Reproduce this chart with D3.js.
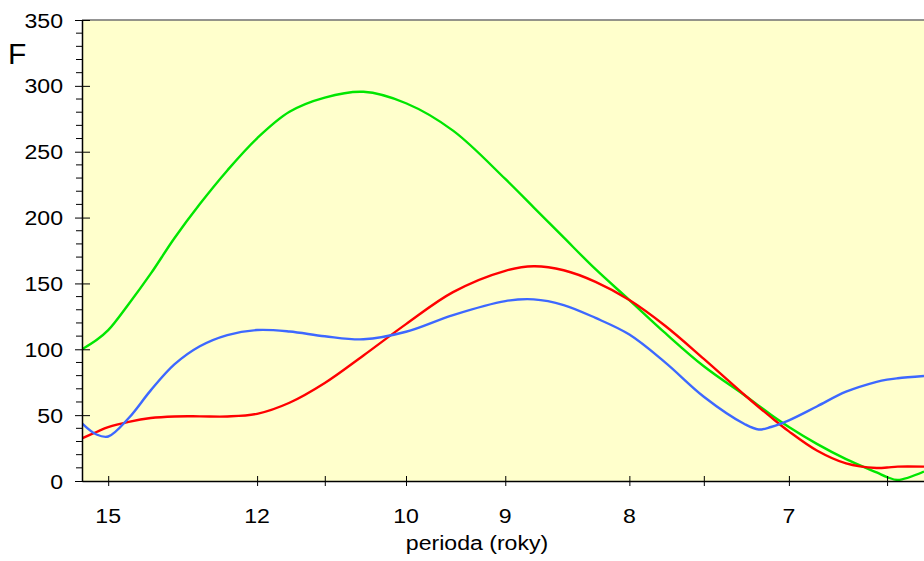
<!DOCTYPE html>
<html>
<head>
<meta charset="utf-8">
<script src="https://cdn.jsdelivr.net/npm/d3@7"></script>
<style>
  body { margin: 0; background: #fff; }
  svg { display: block; font-family: Arial, "Liberation Sans", sans-serif; }
</style>
</head>
<body>
<div id="chart"></div>
<script>
const periods = [15.69, 15.3, 15, 14.5, 14, 13.5, 13, 12.5, 12, 11.5, 11, 10.5, 10, 9.5, 9,
  8.75, 8.5, 8.25, 8, 7.75, 7.5, 7.25, 7.17, 7.1, 7, 6.85, 6.7, 6.55, 6.5, 6.45, 6.33];

const greenF = [100, 107, 114.5, 134.4, 157.4, 184.3, 210.3, 235.8, 260.2, 280.3, 291.1, 295.5, 286.8, 266, 229.3,
  207.8, 184.9, 160.8, 137.4, 112.2, 87.1, 64.9, 57.2, 50.3, 41, 28.2, 16.6, 6.5, 3, 0.8, 7.2];

const redF = [32.4, 37.2, 40.9, 44.9, 47.8, 49, 49.1, 49, 51, 59.4, 74.4, 95.3, 119.1, 143.4, 159.6,
  163, 160, 151.2, 137.4, 117.7, 92.7, 65.1, 56.2, 48.5, 37.7, 23.2, 13.4, 9.9, 10.2, 10.9, 10.9];

const blueF = [43.8, 35.3, 33.8, 47.8, 68.8, 88.5, 102.3, 110.8, 114.6, 113.5, 109.9, 107.6, 113.3, 126, 136.6,
  137.9, 133.6, 123.8, 111.2, 89.9, 64, 43.1, 39.1, 41, 46.1, 56.6, 67.8, 75.3, 77, 78, 79.7];

const xTicks = [15, 12, 11, 10, 9, 8, 7.5, 7, 6.5];
const xLabels = ["15", "12", "", "10", "9", "8", "", "7", ""];
const yTicks = [0, 50, 100, 150, 200, 250, 300, 350];

const W = 924, H = 561;
const margin = { top: 20, right: 0, bottom: 80, left: 82 };
const plotW = W - margin.left - margin.right;
const plotH = H - margin.top - margin.bottom;
const stretch = 1.1; // text is a bit wider than plain Arial

const svg = d3.select('#chart').append('svg')
  .attr('width', W)
  .attr('height', H);

// x is linear in frequency (1/period)
const x = d3.scaleLinear()
  .domain([1 / 15.69, 1 / 6.33])
  .range([margin.left, margin.left + plotW]);

const y = d3.scaleLinear()
  .domain([0, 350])
  .range([margin.top + plotH, margin.top]);

svg.append('rect')
  .attr('x', margin.left).attr('y', margin.top)
  .attr('width', plotW).attr('height', plotH)
  .attr('fill', '#ffffcc');

svg.append('clipPath').attr('id', 'clip')
  .append('rect')
  .attr('x', margin.left).attr('y', margin.top - 5)
  .attr('width', plotW).attr('height', plotH + 10);

// top border
svg.append('line')
  .attr('x1', margin.left).attr('x2', W)
  .attr('y1', margin.top).attr('y2', margin.top)
  .attr('stroke', '#707070').attr('stroke-width', 1.5);

// curves
const series = [
  { values: greenF, color: '#00e600' },
  { values: redF, color: '#ff0000' },
  { values: blueF, color: '#3d68ff' }
];

const line = d3.line()
  .x((d, i) => x(1 / periods[i]))
  .y(d => y(d))
  .curve(d3.curveCatmullRom.alpha(0.5));

svg.append('g').attr('clip-path', 'url(#clip)')
  .selectAll('path')
  .data(series)
  .enter()
  .append('path')
  .attr('d', d => line(d.values))
  .attr('fill', 'none')
  .attr('stroke', d => d.color)
  .attr('stroke-width', 2.4);

// y axis: minor ticks every 10
const yMinor = d3.range(0, 351, 10).filter(v => v % 50 !== 0);
svg.append('g')
  .selectAll('line')
  .data(yMinor)
  .enter()
  .append('line')
  .attr('x1', margin.left - 6).attr('x2', margin.left)
  .attr('y1', d => y(d)).attr('y2', d => y(d))
  .attr('stroke', '#000');

const yAxis = d3.axisLeft(y)
  .tickValues(yTicks)
  .tickSizeInner(7)
  .tickSizeOuter(0)
  .tickFormat(() => '');

const gy = svg.append('g')
  .attr('transform', `translate(${margin.left},0)`)
  .call(yAxis);
gy.select('.domain').attr('stroke', '#000').attr('stroke-width', 1.5);
gy.selectAll('.tick line').attr('x1', 8).attr('x2', -7).attr('stroke', '#000');

svg.append('g')
  .selectAll('g')
  .data(yTicks)
  .enter()
  .append('g')
  .attr('transform', d => `translate(63,${y(d) + 7.5}) scale(${stretch},1)`)
  .append('text')
  .attr('text-anchor', 'end')
  .attr('font-size', 21)
  .text(d => d);

// x axis
const xAxis = d3.axisBottom(x)
  .tickValues(xTicks.map(p => 1 / p))
  .tickSizeInner(5)
  .tickSizeOuter(0)
  .tickFormat(() => '');

const gx = svg.append('g')
  .attr('transform', `translate(0,${margin.top + plotH})`)
  .call(xAxis);
gx.select('.domain').attr('stroke', '#000').attr('stroke-width', 1.5);
gx.selectAll('.tick line').attr('y1', -5).attr('y2', 5).attr('stroke', '#000');

svg.append('g')
  .selectAll('g')
  .data(xTicks)
  .enter()
  .append('g')
  .attr('transform', d => `translate(${x(1 / d)},523) scale(${stretch},1)`)
  .append('text')
  .attr('text-anchor', 'middle')
  .attr('font-size', 21)
  .text((d, i) => xLabels[i]);

svg.append('g')
  .attr('transform', `translate(477,550) scale(${stretch},1)`)
  .append('text')
  .attr('text-anchor', 'middle')
  .attr('font-size', 21)
  .text('perioda (roky)');

svg.append('text')
  .attr('x', 8).attr('y', 63.5)
  .attr('font-size', 30)
  .text('F');
</script>
</body>
</html>
